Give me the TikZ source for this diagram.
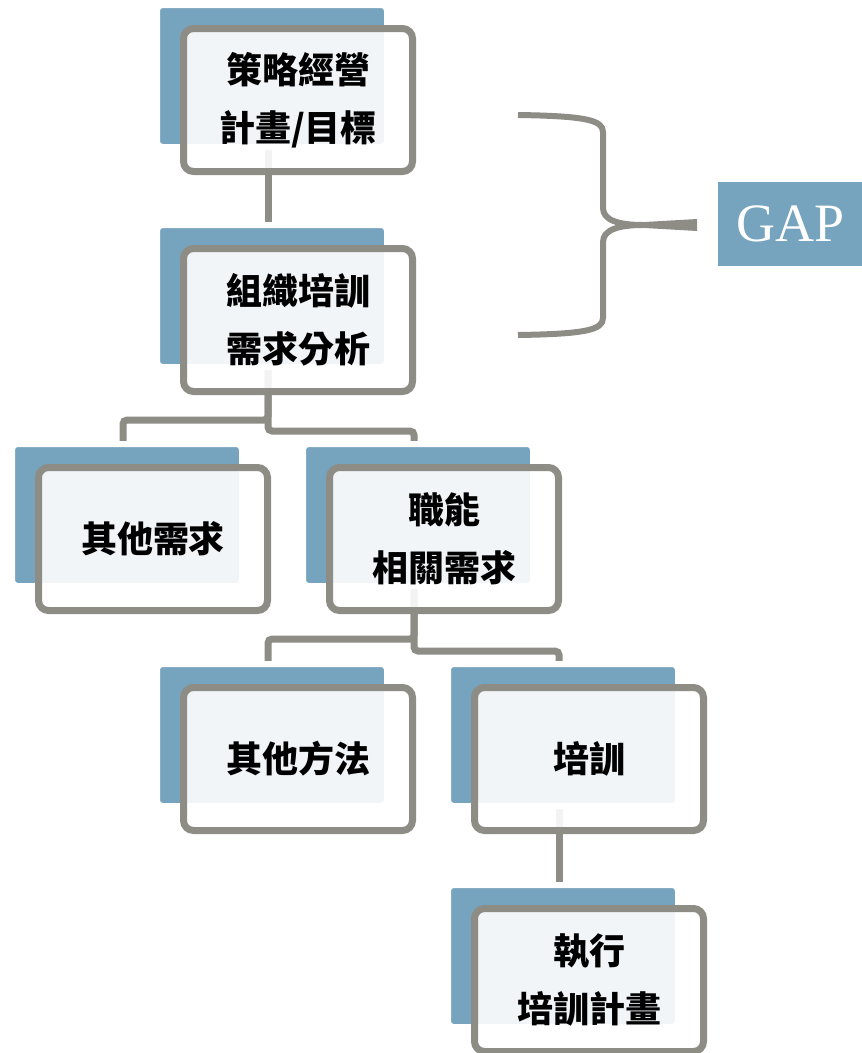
\documentclass[tikz,border=0pt]{standalone}
\usepackage{fontspec}
\usetikzlibrary{backgrounds}
\newfontfamily\cjk{Noto Sans CJK TC}
\newfontfamily\gapfont{Liberation Serif}
\definecolor{backblue}{RGB}{118,163,189}
\definecolor{linegray}{RGB}{141,141,134}
\tikzset{
	back/.style={rectangle, rounded corners=6pt, fill=backblue, draw=white, line width=6pt,
		minimum width=230pt, minimum height=142pt, inner sep=0pt},
	front/.style={rectangle, rounded corners=10pt, draw=linegray, line width=7pt,
		fill=white, fill opacity=0.9, text opacity=1, minimum width=229pt, minimum height=143pt,
		inner sep=0pt, align=center, font=\cjk\bfseries\fontsize{36}{58}\selectfont},
	link/.style={draw=linegray, line width=7pt, rounded corners=4pt}
}
\begin{document}
\begin{tikzpicture}[x=1pt,y=-1pt]
	\useasboundingbox (0,0) rectangle (862,1053);

	% blue backs
	\node[back] (b1) at (272,76) {};
	\node[back] (b2) at (272,296) {};
	\node[back] (b3) at (127,515) {};
	\node[back] (b4) at (418,515) {};
	\node[back] (b5) at (272,735) {};
	\node[back] (b6) at (563,735) {};
	\node[back] (b7) at (563,956) {};

	% framed boxes
	\node[front] (f1) at ([shift={(26,24)}]b1.center) {策略經營\\計畫/目標};
	\node[front] (f2) at ([shift={(26,24)}]b2.center) {組織培訓\\需求分析};
	\node[front] (f3) at ([shift={(26,24)}]b3.center) {其他需求};
	\node[front] (f4) at ([shift={(26,24)}]b4.center) {職能\\相關需求};
	\node[front] (f5) at ([shift={(26,24)}]b5.center) {其他方法};
	\node[front] (f6) at ([shift={(26,24)}]b6.center) {培訓};
	\node[front] (f7) at ([shift={(26,24)}]b7.center) {執行\\培訓計畫};

	\begin{scope}[on background layer]
	\draw[link] ([xshift=-4pt]b1.south)--([xshift=-4pt]b2.north);
	\draw[link] ([xshift=-4pt]b2.south)--++(0,50)-|([xshift=-4pt]b3.north);
	\draw[link] ([xshift=-4pt]b2.south)--++(0,61)-|([xshift=-4pt]b4.north);
	\draw[link] ([xshift=-4pt]b4.south)--++(0,50)-|([xshift=-4pt]b5.north);
	\draw[link] ([xshift=-4pt]b4.south)--++(0,62)-|([xshift=-4pt]b6.north);
	\draw[link] ([xshift=-4pt]b6.south)--([xshift=-4pt]b7.north);
	\end{scope}

	% brace and gap
	\node[rectangle, fill=backblue, minimum width=146pt, minimum height=84pt, inner sep=0pt,
		text=white, font=\gapfont\fontsize{54}{60}\selectfont] (gap) at (791,224) {GAP};
	\coordinate (tip) at (643,225);
	\draw[linegray, line width=6pt]
	(518,115) .. controls (585,116) and (603,120) .. (603,132)
	-- (603,208) .. controls (603,220) and (618,225) .. (tip)
	.. controls (618,225) and (603,230) .. (603,242)
	-- (603,318) .. controls (603,330) and (585,334) .. (518,335);
	\fill[linegray] (636,222.5)--(697,219)--(697,231)--(636,227.5)--cycle;
\end{tikzpicture}
\end{document}
